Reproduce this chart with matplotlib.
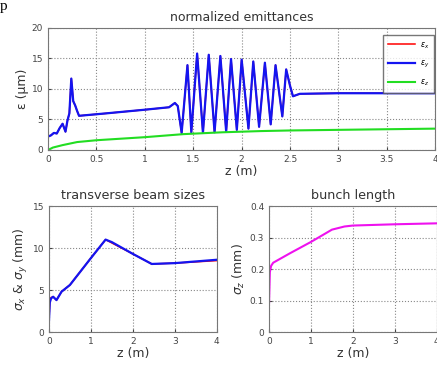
import matplotlib
matplotlib.use("Agg")
import matplotlib.pyplot as plt

# normalized emittances (um) vs z (m)
z_ey = [0.0, 0.03, 0.06, 0.09, 0.12, 0.15, 0.18, 0.2, 0.22, 0.24, 0.26, 0.28, 0.3, 0.32,
        0.6, 1.0, 1.25, 1.31, 1.34,
        1.38, 1.44, 1.48, 1.54, 1.60, 1.66, 1.72, 1.78, 1.84, 1.89, 1.95, 2.00,
        2.07, 2.12, 2.18, 2.24, 2.30, 2.35, 2.42, 2.46, 2.50, 2.53, 2.6, 3.0, 4.0]
ey = [2.2, 2.4, 2.8, 2.7, 3.6, 4.3, 3.0, 4.8, 6.0, 11.7, 8.0, 7.3, 6.4, 5.6,
      6.0, 6.6, 7.0, 7.7, 7.2,
      2.8, 13.9, 2.9, 15.8, 2.8, 15.6, 2.9, 15.4, 3.0, 14.9, 3.3, 14.8,
      3.5, 14.5, 3.8, 14.3, 4.2, 13.9, 5.5, 13.2, 10.5, 8.8, 9.2, 9.3, 9.3]
z_ez = [0.0, 0.05, 0.15, 0.3, 0.5, 1.0, 1.4, 1.8, 2.2, 2.5, 3.0, 3.5, 4.0]
ez = [0.0, 0.4, 0.8, 1.3, 1.6, 2.1, 2.6, 2.9, 3.1, 3.2, 3.3, 3.4, 3.5]

# transverse beam sizes (mm)
z_sig = [0.0, 0.02, 0.05, 0.1, 0.18, 0.3, 0.5, 1.0, 1.35, 1.5, 2.0, 2.45, 3.0, 4.0]
sig_x = [1.3, 3.6, 4.1, 4.2, 3.8, 4.8, 5.6, 8.8, 11.0, 10.6, 9.3, 8.1, 8.2, 8.5]
sig_y = [1.3, 3.5, 4.0, 4.2, 3.8, 4.8, 5.6, 8.8, 11.0, 10.7, 9.3, 8.1, 8.2, 8.6]

# bunch length (mm)
z_bl = [0.0, 0.02, 0.05, 0.1, 0.5, 1.0, 1.5, 1.8, 2.0, 2.5, 3.0, 4.0]
sig_z = [0.09, 0.19, 0.21, 0.22, 0.25, 0.286, 0.325, 0.335, 0.338, 0.34, 0.342, 0.345]

plt.rcParams["font.family"] = ["DejaVu Sans"]
tick_col = "#444444"
spine_col = "#777777"
text_col = "#333333"
blue = "#1414f0"


def style(ax):
    ax.grid(True, linestyle=":", color="#888888", linewidth=0.8)
    ax.tick_params(labelsize=6.5, colors=tick_col, length=2, direction="in")
    for s in ax.spines.values():
        s.set_color(spine_col)


fig = plt.figure(figsize=(4.37, 3.70), dpi=100)

ax1 = fig.add_axes([0.110, 0.5946, 0.886, 0.330])
ax1.plot(z_ey, ey, color="red", lw=1.1, label=r"$\epsilon_x$")
ax1.plot(z_ey, ey, color=blue, lw=1.6, label=r"$\epsilon_y$")
ax1.plot(z_ez, ez, color="#22dd22", lw=1.5, label=r"$\epsilon_z$")
ax1.set_xlim(0, 4)
ax1.set_ylim(0, 20)
ax1.set_xticks([0, 0.5, 1, 1.5, 2, 2.5, 3, 3.5, 4])
ax1.set_xticklabels(["0", "0.5", "1", "1.5", "2", "2.5", "3", "3.5", "4"])
ax1.set_yticks([0, 5, 10, 15, 20])
style(ax1)
ax1.set_title("normalized emittances", fontsize=9, color=text_col, pad=5)
ax1.set_xlabel("z (m)", fontsize=9, color=text_col, labelpad=1)
ax1.set_ylabel("ε (μm)", fontsize=9, color=text_col, labelpad=2)
leg = ax1.legend(loc="upper left", bbox_to_anchor=(0.855, 0.975), fontsize=5.5,
                 handlelength=3.5, frameon=True, fancybox=False, borderpad=0.7,
                 labelspacing=1.0, handletextpad=0.6)
leg.get_frame().set_edgecolor("#555555")
leg.get_frame().set_linewidth(1.0)

ax2 = fig.add_axes([0.112, 0.1027, 0.384, 0.3405])
ax2.plot(z_sig, sig_x, color="red", lw=1.1)
ax2.plot(z_sig, sig_y, color=blue, lw=1.6)
ax2.set_xlim(0, 4)
ax2.set_ylim(0, 15)
ax2.set_xticks([0, 1, 2, 3, 4])
ax2.set_yticks([0, 5, 10, 15])
style(ax2)
ax2.set_title("transverse beam sizes", fontsize=9.2, color=text_col, pad=5)
ax2.set_xlabel("z (m)", fontsize=9, color=text_col, labelpad=1)
ax2.set_ylabel(r"$\sigma_x$ & $\sigma_y$ (mm)", fontsize=9, color=text_col, labelpad=2)

ax3 = fig.add_axes([0.6156, 0.1027, 0.384, 0.3405])
ax3.plot(z_bl, sig_z, color="#ee11ee", lw=1.5)
ax3.set_xlim(0, 4)
ax3.set_ylim(0, 0.4)
ax3.set_xticks([0, 1, 2, 3, 4])
ax3.set_yticks([0, 0.1, 0.2, 0.3, 0.4])
ax3.set_yticklabels(["0", "0.1", "0.2", "0.3", "0.4"])
style(ax3)
ax3.set_title("bunch length", fontsize=9.2, color=text_col, pad=5)
ax3.set_xlabel("z (m)", fontsize=9, color=text_col, labelpad=1)
ax3.set_ylabel(r"$\sigma_z$ (mm)", fontsize=9, color=text_col, labelpad=2)

fig.text(0.0, 1.0, "p", fontsize=11, family="Liberation Serif", va="top", ha="left")

fig.savefig("out.png", dpi=100)
